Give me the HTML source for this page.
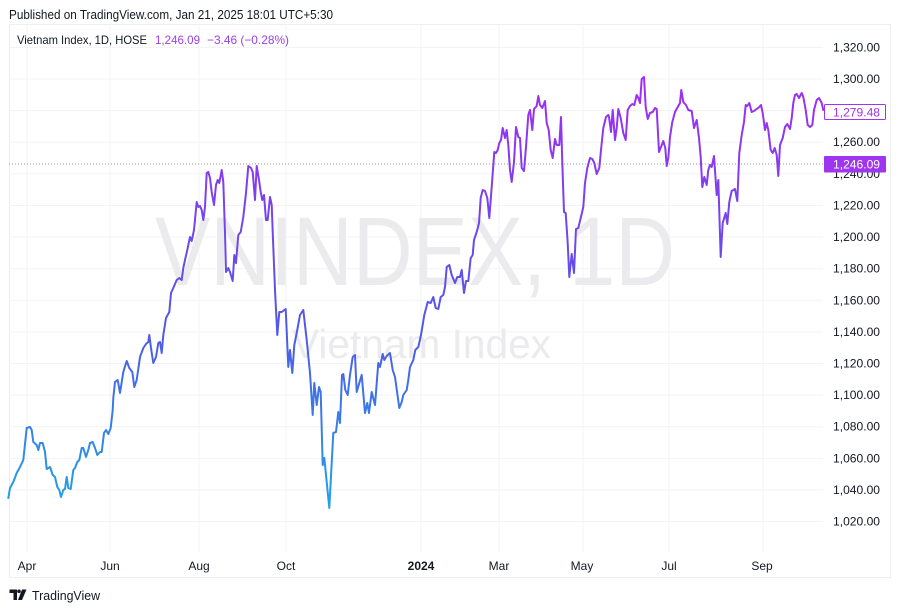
<!DOCTYPE html>
<html><head><meta charset="utf-8"><style>
html,body{margin:0;padding:0;background:#fff;}
svg{display:block;font-family:"Liberation Sans",sans-serif;}
</style></head><body>
<svg width="900" height="611" viewBox="0 0 900 611" xmlns="http://www.w3.org/2000/svg">
<defs>
<linearGradient id="lg" gradientUnits="userSpaceOnUse" x1="0" y1="510" x2="0" y2="80">
<stop offset="0" stop-color="#1fa3e8"/>
<stop offset="0.42" stop-color="#5158e6"/>
<stop offset="1" stop-color="#a22cf2"/>
</linearGradient>
</defs>
<rect width="900" height="611" fill="#fff"/>
<text x="9" y="19" font-size="13" fill="#131722" textLength="324" lengthAdjust="spacingAndGlyphs">Published on TradingView.com, Jan 21, 2025 18:01 UTC+5:30</text>
<rect x="9.5" y="24.5" width="881" height="553" fill="none" stroke="#eceef2" stroke-width="1"/>
<g stroke="#f2f3f6" stroke-width="1">
<line x1="9" y1="47.4" x2="823" y2="47.4"/><line x1="9" y1="79" x2="823" y2="79"/><line x1="9" y1="110.6" x2="823" y2="110.6"/><line x1="9" y1="142.2" x2="823" y2="142.2"/><line x1="9" y1="173.8" x2="823" y2="173.8"/><line x1="9" y1="205.5" x2="823" y2="205.5"/><line x1="9" y1="237.1" x2="823" y2="237.1"/><line x1="9" y1="268.7" x2="823" y2="268.7"/><line x1="9" y1="300.3" x2="823" y2="300.3"/><line x1="9" y1="331.9" x2="823" y2="331.9"/><line x1="9" y1="363.5" x2="823" y2="363.5"/><line x1="9" y1="395.1" x2="823" y2="395.1"/><line x1="9" y1="426.7" x2="823" y2="426.7"/><line x1="9" y1="458.4" x2="823" y2="458.4"/><line x1="9" y1="490" x2="823" y2="490"/><line x1="9" y1="521.6" x2="823" y2="521.6"/>
<line x1="27" y1="24" x2="27" y2="552"/><line x1="110" y1="24" x2="110" y2="552"/><line x1="199" y1="24" x2="199" y2="552"/><line x1="286" y1="24" x2="286" y2="552"/><line x1="421" y1="24" x2="421" y2="552"/><line x1="499" y1="24" x2="499" y2="552"/><line x1="583" y1="24" x2="583" y2="552"/><line x1="669" y1="24" x2="669" y2="552"/><line x1="763" y1="24" x2="763" y2="552"/>
</g>
<text x="155" y="285" font-size="97" fill="#ebebee" textLength="520" lengthAdjust="spacingAndGlyphs">VNINDEX, 1D</text>
<text x="292" y="358" font-size="41" fill="#ebebee" textLength="259" lengthAdjust="spacingAndGlyphs">Vietnam Index</text>
<text x="17" y="44" font-size="12" fill="#131722" textLength="130" lengthAdjust="spacingAndGlyphs">Vietnam Index, 1D, HOSE</text>
<text x="155" y="44" font-size="12" fill="#9c3ee8" textLength="45" lengthAdjust="spacingAndGlyphs">1,246.09</text>
<text x="207" y="44" font-size="12" fill="#9c3ee8" textLength="82" lengthAdjust="spacingAndGlyphs">−3.46 (−0.28%)</text>
<line x1="9" y1="164" x2="823" y2="164" stroke="#9598a1" stroke-width="1" stroke-dasharray="1,2"/>
<polyline fill="none" stroke="url(#lg)" stroke-width="2" stroke-linejoin="round" stroke-linecap="round" points="8.3,498 10,488 13.3,482 16.7,473 20,467 23.3,460 26.7,428 30,427 31.7,430 33.3,442 36.7,445 38.3,450 40,443 42.7,443 45,452 46.7,469 50,467 52.7,475 55,477 57.3,487 59.3,490 61,497 63.3,490 65,489 66.7,477 68.3,488 70.7,489 73.3,470 75,468 77.3,462 79.3,460 81.7,448 83.3,448 86,457 88.3,450 90,443 92.7,442 95,448 97.3,455 100,452 101.7,452 104,433 106,430 108.3,434 110.7,428 112.7,410 113.3,398 115,382 117.7,380 120,393 123.3,372 126.7,361 129.3,368 132.3,372 134.3,387 136.7,380 140,357 143.3,348 146,344 148.3,342 149.3,335 151,348 153.3,363 156,357 158.3,343 160,342 161.7,353 163.3,335 166,318 169.3,312 171,293 173.3,288 176.7,280 179.3,278 181.7,280 183.3,268 185,260 187.3,250 190,237 191.7,241 194,230 196.7,202 198.3,207 200,206 201.7,210 203.3,220 205,207 206.7,173 208.3,172 210,178 211.7,192 214,205 216,185 217.7,180 219.3,183 221.7,170 223.3,182 225,233 226,272 228.3,268 230,272 232.7,281 234.3,255 236,263 238.3,235 240.7,232 243.3,217 246,193 248.3,166 251,168 252.7,172 255,200 256.7,166 259,180 260.7,192 262.3,200 264,195 266,220 267.7,220 270,197 271.7,205 273.3,247 275,290 277.3,335 279.3,312 281.7,312 285.7,309 288.3,367 290,350 292.3,373 294.3,345 296.7,333 300,315 303.3,310 306.7,340 310,373 312.7,415 314.3,383 316.7,405 319,387 320.7,392 322.7,465 324.3,458 329.3,508 333.3,433 336,432 338.3,412 340,423 342,375 343.3,374 345.3,390 347.7,395 350,375 352.7,357 355,355 356.7,392 359.3,383 361.7,375 365,413 367.3,403 369,413 371.7,392 375,405 378.3,363 380,367 382.7,354 384.3,360 386.7,356 390,353 392.7,370 395,377 399.3,408 401.7,402 403.3,395 406.7,390 408.3,380 410,367 413.3,360 415.3,350 418.3,347 421,335 424.3,315 427.7,302 430.7,303 433.3,297 435.7,308 438.3,309 440.7,297 443.3,295 445,287 446.7,267 449.3,265 451.7,275 455,283 457.3,277 460,277 461.7,270 464,293 466,281 468.3,281 470.7,258 472.7,255 474,240 476.7,232 479,223 480.7,198 482.7,190 485,191 487.3,198 489.3,218 491.7,187 494.3,152 496,153 497.7,150 499.3,143 501,140 502.7,128 505,138 506.7,130 508.3,145 510,170 511.7,182 514,162 516,127 518.3,137 520,138 521.7,168 524,171 526,147 528.3,115 530,110 532.3,130 534,109 536.7,106 538.3,96 540,105 542.3,108 545,101 546.7,123 548.7,130 550.7,150 552.7,158 555,139 556.7,145 559.3,145 561,117 562.3,163 564,212 565.7,213 567.7,243 569.3,277 571.7,254 574,273 576,229 578.3,228 580.7,218 583.3,207 585,183 587.3,168 590,158 592.3,159 594.3,163 596.7,174 599.3,168 601,150 603.3,128 606,117 608.3,115 609,117 611,132 612.7,110 615,140 616.7,128 618.3,109 620.7,118 623.3,133 625.7,140 627.7,110 630,106 632.3,104 634.3,105 636.7,95 638.3,98 640,103 641.7,79 644,77 645.7,107 647.7,119 650,113 652.7,112 655,108 656.7,109 659,152 661,147 663.3,141 665.3,148 666.7,166 668.3,158 670,137 672.3,122 675,112 678.3,106 680,103 681.3,90 683.3,102 686,105 688.3,110 691.7,111 694,128 696.7,120 699,138 700.7,157 702.3,187 704.3,177 706.7,185 708.3,170 710,165 711.7,167 714,156 716.7,195 718.3,180 720.7,257 722.7,223 725.7,213 727.3,224 729.3,202 731.7,191 735,189 737.3,201 739.3,153 741.7,135 744,122 745.7,105 747.3,106 749.3,103 751.7,112 754,111 756.7,109 759.3,107 761,105 762.7,113 765,130 766.7,123 768.3,130 770.7,150 772.7,153 774.7,148 776.7,155 778.3,176 780,145 782.7,138 785,127 787.3,124 790,129 791.7,118 793.3,103 795,95 796.7,94 799,98 801.7,93 803.3,97 805.7,110 807.7,125 810,127 812.3,125 814,110 816.7,100 819,98 821.7,103 823.3,110"/>
<g font-size="12" fill="#131722">
<text x="833" y="51.4" textLength="47" lengthAdjust="spacingAndGlyphs">1,320.00</text>
<text x="833" y="83" textLength="47" lengthAdjust="spacingAndGlyphs">1,300.00</text>
<text x="833" y="146.2" textLength="47" lengthAdjust="spacingAndGlyphs">1,260.00</text>
<text x="833" y="177.8" textLength="47" lengthAdjust="spacingAndGlyphs">1,240.00</text>
<text x="833" y="209.5" textLength="47" lengthAdjust="spacingAndGlyphs">1,220.00</text>
<text x="833" y="241.1" textLength="47" lengthAdjust="spacingAndGlyphs">1,200.00</text>
<text x="833" y="272.7" textLength="47" lengthAdjust="spacingAndGlyphs">1,180.00</text>
<text x="833" y="304.3" textLength="47" lengthAdjust="spacingAndGlyphs">1,160.00</text>
<text x="833" y="335.9" textLength="47" lengthAdjust="spacingAndGlyphs">1,140.00</text>
<text x="833" y="367.5" textLength="47" lengthAdjust="spacingAndGlyphs">1,120.00</text>
<text x="833" y="399.1" textLength="47" lengthAdjust="spacingAndGlyphs">1,100.00</text>
<text x="833" y="430.7" textLength="47" lengthAdjust="spacingAndGlyphs">1,080.00</text>
<text x="833" y="462.4" textLength="47" lengthAdjust="spacingAndGlyphs">1,060.00</text>
<text x="833" y="494" textLength="47" lengthAdjust="spacingAndGlyphs">1,040.00</text>
<text x="833" y="525.6" textLength="47" lengthAdjust="spacingAndGlyphs">1,020.00</text>
</g>
<rect x="824.5" y="104.5" width="61" height="15" fill="#fff" stroke="#a035f0" stroke-width="1" rx="1"/>
<text x="833" y="116.5" font-size="12" fill="#a035f0" textLength="47" lengthAdjust="spacingAndGlyphs">1,279.48</text>
<rect x="824" y="156" width="62" height="16.5" fill="#a035f0" rx="1"/>
<text x="833" y="168.5" font-size="12" fill="#fff" textLength="47" lengthAdjust="spacingAndGlyphs">1,246.09</text>
<g font-size="12" fill="#131722" text-anchor="middle">
<text x="27" y="570">Apr</text>
<text x="110" y="570">Jun</text>
<text x="199" y="570">Aug</text>
<text x="286" y="570">Oct</text>
<text x="421" y="570" font-weight="bold">2024</text>
<text x="499" y="570">Mar</text>
<text x="582" y="570">May</text>
<text x="669" y="570">Jul</text>
<text x="762" y="570">Sep</text>
</g>
<g fill="#131722">
<path d="M9.5 589.5h7.5v10.5h-3.5v-7h-4z"/>
<circle cx="19" cy="591.3" r="1.8"/>
<path d="M22 589.5h4.5l-4.5 10.5h-4z"/>
</g>
<text x="32" y="600" font-size="13" fill="#131722" textLength="68" lengthAdjust="spacingAndGlyphs">TradingView</text>
</svg>
</body></html>
